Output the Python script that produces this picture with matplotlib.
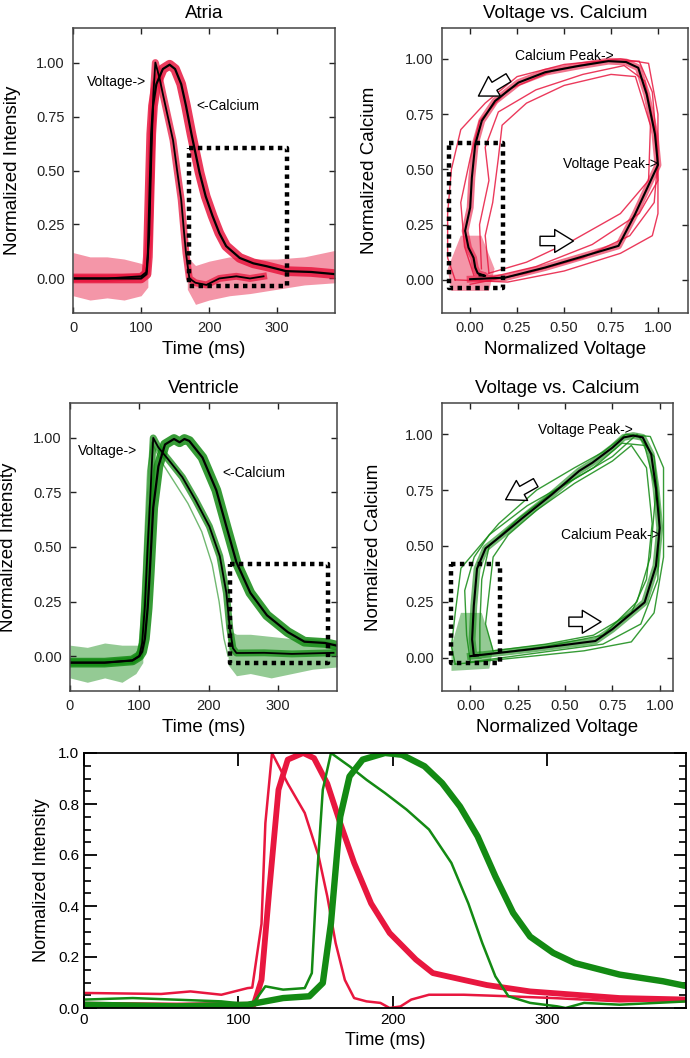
import numpy as np
import matplotlib
matplotlib.use("Agg")
import matplotlib.pyplot as plt

plt.rcParams['font.family'] = ['Liberation Sans', 'DejaVu Sans']

RED = '#e8173f'
GREEN = '#138a13'

# ---- Atria time traces ----
atria_v_t = [0, 50, 100, 108, 112, 115, 118, 121, 127, 132, 140, 147, 153, 159, 163, 166, 171, 180, 196, 215, 240, 260, 280]
atria_v = [0.0, 0.0, 0.01, 0.03, 0.2, 0.55, 0.85, 1.0, 0.93, 0.855, 0.74, 0.64, 0.5, 0.364, 0.22, 0.118, 0.0, -0.02, -0.03, 0.0, 0.01, 0.0, 0.01]
atria_ca_t = [0, 50, 100, 108, 110, 112.6, 115, 117.6, 122.5, 132, 142, 150, 159, 166, 174, 186, 195, 205, 215, 225, 245, 265, 284, 313, 350, 385]
atria_ca = [0.0, 0.0, 0.0, 0.02, 0.1, 0.4, 0.67, 0.8, 0.9, 0.97, 0.99, 0.97, 0.9, 0.8, 0.67, 0.49, 0.38, 0.29, 0.21, 0.15, 0.095, 0.07, 0.057, 0.034, 0.03, 0.02]
atria_base_t = [0, 25, 50, 75, 100, 110]
atria_base_lo = [-0.08, -0.1, -0.09, -0.1, -0.08, -0.04]
atria_base_hi = [0.12, 0.1, 0.1, 0.09, 0.07, 0.05]
atria_tail_t = [168, 180, 200, 230, 260, 300, 340, 385]
atria_tail_lo = [-0.05, -0.12, -0.1, -0.08, -0.07, -0.05, -0.03, -0.02]
atria_tail_hi = [0.1, 0.06, 0.08, 0.1, 0.09, 0.09, 0.1, 0.13]

# ---- Ventricle time traces ----
vent_v_t = [0, 50, 90, 100, 104, 108, 112, 115, 118, 120, 127.5, 142, 162, 181, 201, 216, 225.5, 230.4, 235, 240, 280, 320, 380]
vent_v = [-0.03, -0.03, -0.02, 0.0, 0.06, 0.23, 0.5, 0.68, 0.88, 1.0, 0.956, 0.9, 0.82, 0.715, 0.594, 0.458, 0.29, 0.127, 0.036, 0.014, 0.015, 0.01, 0.015]
vent_early_t = [100, 106, 112, 118, 130, 150, 170, 190, 205, 215, 222, 228]
vent_early = [0.0, 0.4, 0.85, 0.98, 0.9, 0.8, 0.7, 0.57, 0.42, 0.25, 0.08, 0.0]
vent_ca_t = [0, 50, 90, 100, 104, 108, 112, 115, 120, 127.5, 137, 150, 158, 165, 172, 191, 211, 225.5, 240, 260, 284, 314, 338, 368, 390]
vent_ca = [-0.03, -0.03, -0.02, 0.0, 0.02, 0.08, 0.22, 0.38, 0.68, 0.87, 0.97, 0.995, 0.98, 0.995, 0.986, 0.91, 0.76, 0.594, 0.43, 0.29, 0.187, 0.11, 0.066, 0.06, 0.044]
vent_base_t = [0, 25, 50, 75, 95, 105]
vent_base_lo = [-0.1, -0.12, -0.1, -0.12, -0.08, -0.03]
vent_base_hi = [0.05, 0.04, 0.06, 0.05, 0.05, 0.05]
vent_tail_t = [228, 240, 260, 290, 320, 350, 385]
vent_tail_lo = [-0.04, -0.09, -0.08, -0.1, -0.08, -0.06, -0.05]
vent_tail_hi = [0.12, 0.1, 0.1, 0.09, 0.08, 0.08, 0.06]

# ---- Voltage vs calcium loops ----
atria_loop_v = [0.0, 0.186, 0.40, 0.576, 0.79, 0.878, 1.0, 0.984, 0.94, 0.895, 0.83, 0.736, 0.576, 0.40, 0.257, 0.133, 0.062, 0.027, 0.009, 0.0, -0.027, -0.009, 0.018, 0.027, 0.04, 0.08, 0.05]
atria_loop_c = [0.003, 0.01, 0.056, 0.10, 0.154, 0.297, 0.52, 0.66, 0.84, 0.96, 0.986, 0.99, 0.968, 0.94, 0.893, 0.81, 0.72, 0.614, 0.463, 0.327, 0.222, 0.146, 0.10, 0.056, 0.03, 0.018, 0.02]
atria_trace_v = [
    [-0.08, 0.2, 0.5, 0.8, 0.97, 1.0, 1.0, 0.95, 0.8, 0.5, 0.25, 0.08, -0.05, -0.1, -0.12, -0.12, -0.08],
    [0.1, 0.3, 0.55, 0.8, 0.95, 0.96, 0.88, 0.75, 0.5, 0.3, 0.17, 0.15, 0.12, 0.08, 0.1],
    [0.0, 0.3, 0.6, 0.85, 0.98, 1.0, 0.97, 0.9, 0.7, 0.45, 0.2, 0.05, 0.0, -0.05, -0.03, 0.02],
    [0.05, 0.35, 0.65, 0.9, 1.0, 0.99, 0.93, 0.82, 0.6, 0.35, 0.15, 0.08, 0.1, 0.05, 0.06],
]
atria_trace_c = [
    [0.0, -0.01, 0.04, 0.12, 0.2, 0.3, 0.75, 0.98, 1.0, 0.975, 0.92, 0.8, 0.68, 0.5, 0.3, 0.1, 0.0],
    [0.03, 0.08, 0.18, 0.3, 0.45, 0.7, 0.92, 0.93, 0.88, 0.8, 0.7, 0.55, 0.35, 0.2, 0.03],
    [-0.02, 0.03, 0.1, 0.2, 0.35, 0.55, 0.85, 0.99, 0.99, 0.95, 0.86, 0.72, 0.55, 0.35, 0.15, 0.02],
    [0.0, 0.06, 0.16, 0.3, 0.45, 0.65, 0.9, 0.97, 0.93, 0.86, 0.76, 0.6, 0.45, 0.25, 0.05],
]
atria_blob_v = [-0.1, 0.1, 0.13, 0.06, -0.05, -0.12, -0.1]
atria_blob_c = [-0.05, -0.05, 0.05, 0.2, 0.2, 0.05, -0.05]

vent_loop_v = [0.0, 0.08, 0.31, 0.66, 0.75, 0.92, 0.98, 1.0, 0.98, 0.955, 0.91, 0.86, 0.81, 0.75, 0.645, 0.575, 0.43, 0.274, 0.168, 0.08, 0.035, 0.018, 0.009, 0.018, 0.04]
vent_loop_c = [0.006, 0.014, 0.036, 0.074, 0.127, 0.247, 0.41, 0.58, 0.76, 0.91, 0.986, 0.994, 0.986, 0.94, 0.873, 0.836, 0.73, 0.624, 0.549, 0.489, 0.398, 0.232, 0.081, 0.01, 0.01]
vent_trace_v = [
    [-0.08, 0.2, 0.6, 0.85, 0.97, 1.02, 1.02, 0.95, 0.82, 0.7, 0.55, 0.35, 0.15, 0.05, -0.05, -0.08, -0.1, -0.08],
    [0.12, 0.4, 0.65, 0.85, 0.93, 0.96, 0.93, 0.85, 0.75, 0.55, 0.35, 0.2, 0.12, 0.1, 0.08, 0.12],
    [0.0, 0.35, 0.7, 0.9, 0.99, 1.0, 0.97, 0.88, 0.75, 0.55, 0.3, 0.1, 0.02, -0.03, -0.02, 0.0],
    [0.05, 0.4, 0.7, 0.88, 0.95, 0.98, 0.92, 0.8, 0.65, 0.45, 0.25, 0.1, 0.06, 0.05, 0.05],
]
vent_trace_c = [
    [-0.03, -0.005, 0.03, 0.07, 0.2, 0.45, 0.85, 0.99, 1.0, 0.92, 0.85, 0.75, 0.6, 0.5, 0.4, 0.2, 0.05, -0.03],
    [0.03, 0.06, 0.1, 0.2, 0.35, 0.6, 0.85, 0.95, 0.88, 0.78, 0.66, 0.55, 0.45, 0.3, 0.15, 0.03],
    [-0.02, 0.02, 0.06, 0.15, 0.35, 0.65, 0.9, 1.0, 0.9, 0.8, 0.68, 0.55, 0.45, 0.3, 0.1, -0.02],
    [0.01, 0.05, 0.1, 0.25, 0.45, 0.75, 0.95, 0.96, 0.85, 0.75, 0.62, 0.5, 0.35, 0.15, 0.01],
]
vent_blob_v = [-0.1, 0.1, 0.12, 0.06, -0.05, -0.1, -0.1]
vent_blob_c = [-0.06, -0.05, 0.04, 0.2, 0.2, 0.05, -0.06]

# ---- Bottom overlay ----
ov_av_t = [0, 50, 69, 89, 106, 109, 115, 117.5, 121.8, 132, 143, 152, 157.6, 163, 169, 175, 183, 192, 198, 205, 212, 223.5, 246, 275, 304, 347, 391]
ov_av = [0.059, 0.055, 0.065, 0.052, 0.078, 0.08, 0.33, 0.725, 1.0, 0.88, 0.765, 0.595, 0.438, 0.255, 0.11, 0.039, 0.026, 0.02, 0.0, 0.006, 0.033, 0.052, 0.052, 0.046, 0.039, 0.026, 0.033]
ov_ac_t = [0, 60, 110, 115, 120, 126, 132, 142, 149, 157.6, 166, 175, 186, 198, 215, 226, 246, 261, 289, 318, 347, 391]
ov_ac = [0.013, 0.01, 0.013, 0.11, 0.46, 0.856, 0.974, 1.0, 0.98, 0.88, 0.725, 0.569, 0.41, 0.294, 0.19, 0.137, 0.11, 0.09, 0.065, 0.052, 0.039, 0.033]
ov_vv_t = [0, 31.5, 89, 109, 117.5, 129, 143, 147.6, 150.4, 154.7, 160, 172, 183, 195, 209, 223.5, 238, 249, 258, 266.5, 275, 289, 306.6, 312, 324, 347, 391]
ov_vv = [0.033, 0.039, 0.026, 0.013, 0.085, 0.072, 0.078, 0.137, 0.464, 0.856, 1.0, 0.948, 0.895, 0.843, 0.778, 0.70, 0.569, 0.41, 0.255, 0.124, 0.046, 0.02, 0.0065, 0.0, 0.02, 0.013, 0.026]
ov_vc_t = [0, 60, 106, 117.5, 129, 146, 154.7, 160, 166, 172, 180.5, 195, 206, 220.6, 232, 243.6, 255, 266.5, 278, 289, 304, 318, 347, 375, 391]
ov_vc = [0.013, 0.0065, 0.013, 0.026, 0.039, 0.046, 0.098, 0.333, 0.75, 0.908, 0.974, 1.0, 0.993, 0.948, 0.882, 0.79, 0.673, 0.516, 0.373, 0.28, 0.216, 0.176, 0.131, 0.105, 0.085]

W, H = 690, 1058
fig = plt.figure(figsize=(W / 100, H / 100), dpi=100)


def px_axes(l, r, t, b):
    return fig.add_axes([l / W, 1 - b / H, (r - l) / W, (b - t) / H])


def style(ax):
    ax.tick_params(direction='in', top=True, right=True, length=4, width=1,
                   labelsize=10.5, colors='#222222', pad=6)
    for s in ax.spines.values():
        s.set_color('#444444')
        s.set_linewidth(1.1)


def dotted_box(ax, x0, x1, y0, y1):
    ax.plot([x0, x1, x1, x0, x0], [y1, y1, y0, y0, y1], color='black',
            lw=3.2, linestyle=(0, (1, 1)), solid_capstyle='butt', zorder=6)


def block_arrow(ax, tail, head):
    ax.annotate('', xy=head, xytext=tail,
                arrowprops=dict(arrowstyle='simple,head_length=0.9,head_width=1.1,tail_width=0.45',
                                fc='white', ec='black', lw=1.0, mutation_scale=15, shrinkA=0, shrinkB=0),
                zorder=7)


def time_panel(ax, col, vt, v, ct, c, bt, blo, bhi, tt, tlo, thi):
    ax.fill_between(bt, blo, bhi, color=col, alpha=0.45, lw=0)
    ax.fill_between(tt, tlo, thi, color=col, alpha=0.45, lw=0)
    ax.plot(vt, v, color=col, lw=5, alpha=0.75, solid_joinstyle='round')
    ax.plot(ct, c, color=col, lw=7, alpha=0.85, solid_joinstyle='round')
    ax.plot(vt, v, color='black', lw=1.3)
    ax.plot(ct, c, color='black', lw=1.6)
    ax.set_xlim(0, 385)
    ax.set_ylim(-0.16, 1.16)
    ax.set_xticks([0, 100, 200, 300])
    ax.set_yticks([0, 0.25, 0.5, 0.75, 1.0])
    ax.set_yticklabels(['0.00', '0.25', '0.50', '0.75', '1.00'])
    ax.set_xlabel('Time (ms)', fontsize=13.5)
    ax.set_ylabel('Normalized Intensity', fontsize=13.5)
    style(ax)


def loop_panel(ax, col, lv, lc, tv, tc, bv, bc, xmax):
    ax.fill(bv, bc, color=col, alpha=0.45, lw=0)
    for xs, ys in zip(tv, tc):
        ax.plot(xs, ys, color=col, lw=1.0, alpha=0.85)
    ax.plot(lv, lc, color=col, lw=5, alpha=0.6, solid_joinstyle='round')
    ax.plot(lv, lc, color='black', lw=1.5)
    ax.set_xlim(-0.15, xmax)
    ax.set_ylim(-0.15, 1.14)
    ax.set_xticks([0, 0.25, 0.5, 0.75, 1.0])
    ax.set_xticklabels(['0.00', '0.25', '0.50', '0.75', '1.00'])
    ax.set_yticks([0, 0.25, 0.5, 0.75, 1.0])
    ax.set_yticklabels(['0.00', '0.25', '0.50', '0.75', '1.00'])
    ax.set_xlabel('Normalized Voltage', fontsize=13.5)
    ax.set_ylabel('Normalized Calcium', fontsize=13.5)
    style(ax)


# Atria
ax1 = px_axes(73, 335, 28, 313)
time_panel(ax1, RED, atria_v_t, atria_v, atria_ca_t, atria_ca,
           atria_base_t, atria_base_lo, atria_base_hi, atria_tail_t, atria_tail_lo, atria_tail_hi)
dotted_box(ax1, 171, 315, -0.035, 0.602)
ax1.text(20, 0.91, 'Voltage->', fontsize=10, va='center')
ax1.text(181, 0.80, '<-Calcium', fontsize=10, va='center')
ax1.set_title('Atria', fontsize=13.5, pad=7)

# Atria loop
ax2 = px_axes(442, 688, 28, 313)
loop_panel(ax2, RED, atria_loop_v, atria_loop_c, atria_trace_v, atria_trace_c,
           atria_blob_v, atria_blob_c, 1.16)
dotted_box(ax2, -0.115, 0.177, -0.035, 0.621)
ax2.text(0.24, 1.013, 'Calcium Peak->', fontsize=10, va='center')
ax2.text(1.0, 0.523, 'Voltage Peak->', fontsize=10, va='center', ha='right')
block_arrow(ax2, (0.204, 0.915), (0.044, 0.832))
block_arrow(ax2, (0.372, 0.176), (0.55, 0.176))
ax2.set_title('Voltage vs. Calcium', fontsize=13.5, pad=7)

# Ventricle
ax3 = px_axes(70, 337, 403, 691)
ax3.plot(vent_early_t, vent_early, color=GREEN, lw=1.0, alpha=0.6)
time_panel(ax3, GREEN, vent_v_t, vent_v, vent_ca_t, vent_ca,
           vent_base_t, vent_base_lo, vent_base_hi, vent_tail_t, vent_tail_lo, vent_tail_hi)
dotted_box(ax3, 230, 372.5, -0.032, 0.42)
ax3.text(12, 0.94, 'Voltage->', fontsize=10, va='center')
ax3.text(220, 0.84, '<-Calcium', fontsize=10, va='center')
ax3.set_title('Ventricle', fontsize=13.5, pad=7)

# Ventricle loop
ax4 = px_axes(442, 673, 403, 691)
loop_panel(ax4, GREEN, vent_loop_v, vent_loop_c, vent_trace_v, vent_trace_c,
           vent_blob_v, vent_blob_c, 1.07)
dotted_box(ax4, -0.10, 0.155, -0.024, 0.42)
ax4.text(0.86, 1.017, 'Voltage Peak->', fontsize=10, va='center', ha='right')
ax4.text(1.0, 0.549, 'Calcium Peak->', fontsize=10, va='center', ha='right')
block_arrow(ax4, (0.345, 0.783), (0.186, 0.707))
block_arrow(ax4, (0.52, 0.16), (0.69, 0.16))
ax4.set_title('Voltage vs. Calcium', fontsize=13.5, pad=7)

for ax in (ax1, ax3):
    ax.yaxis.set_label_coords(-0.2, 0.5)
for ax in (ax2, ax4):
    ax.yaxis.set_label_coords(-0.26, 0.5)

# Bottom overlay
narrow = ['Liberation Sans Narrow', 'Liberation Sans']
ax5 = px_axes(84, 686, 753, 1008)
ax5.plot(ov_av_t, ov_av, color=RED, lw=1.8)
ax5.plot(ov_ac_t, ov_ac, color=RED, lw=4.2)
ax5.plot(ov_vv_t, ov_vv, color=GREEN, lw=1.8)
ax5.plot(ov_vc_t, ov_vc, color=GREEN, lw=4.6)
ax5.set_xlim(0, 390)
ax5.set_ylim(0, 1.0)
ax5.set_xticks([0, 100, 200, 300])
ax5.set_yticks([0, 0.2, 0.4, 0.6, 0.8, 1.0])
ax5.set_yticks(np.arange(0, 1.001, 0.05), minor=True)
ax5.tick_params(which='major', direction='in', top=True, right=True, length=9, width=1.3, labelsize=11)
ax5.tick_params(which='minor', direction='in', right=True, left=True, length=5, width=1.2)
for lab in ax5.get_xticklabels() + ax5.get_yticklabels():
    lab.set_family(narrow)
for s in ax5.spines.values():
    s.set_linewidth(1.3)
ax5.set_xlabel('Time (ms)', fontsize=13, family=narrow, labelpad=4)
ax5.set_ylabel('Normalized Intensity', fontsize=13, family=narrow, labelpad=6)

fig.savefig('out.png', dpi=100)
